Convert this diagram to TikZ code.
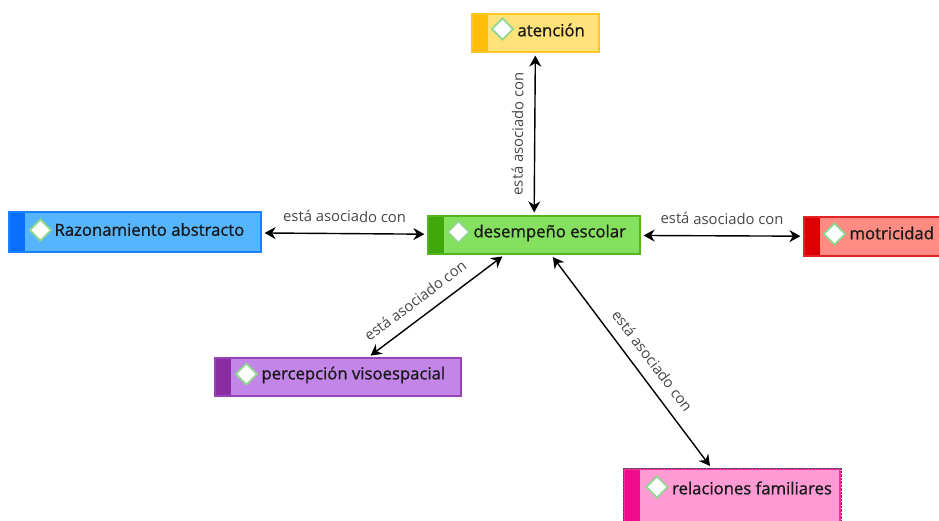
\documentclass[tikz,border=0pt]{standalone}
\usepackage{fontspec}
\setmainfont{Open Sans}
\newfontfamily\conceptfont[FakeBold=1]{Open Sans}
\usepackage{tikz}
\usetikzlibrary{positioning}
\usetikzlibrary{calc}
\usetikzlibrary{arrows.meta}
\usetikzlibrary{shapes.geometric}

\definecolor{yellowfill}{HTML}{FFE27A}
\definecolor{yellowbar}{HTML}{FFBE0A}
\definecolor{greenfill}{HTML}{85E05F}
\definecolor{greenbar}{HTML}{3FA80A}
\definecolor{bluefill}{HTML}{55B5FF}
\definecolor{bluebar}{HTML}{0A6EFF}
\definecolor{redfill}{HTML}{FF8C82}
\definecolor{redbar}{HTML}{DC0005}
\definecolor{purplefill}{HTML}{C385E8}
\definecolor{purplebar}{HTML}{8A2DA5}
\definecolor{pinkfill}{HTML}{FF9AD5}
\definecolor{pinkbar}{HTML}{F00A8C}

\begin{document}
\begin{tikzpicture}[x=1pt,y=-1pt,
      conceptblock/.style 2 args={draw=#2!75!#1,fill=#1,line width=1.2pt,inner sep=0pt,
        path picture={\fill[#2] (path picture bounding box.north west) rectangle
          ($(path picture bounding box.south west)+(16pt,0)$);}},
      iconblock/.style={diamond,draw=green!45!gray!60,fill=white,line width=1.8pt,
        minimum width=22pt,minimum height=22pt,inner sep=0pt},
      conceptlabel/.style={font=\conceptfont\fontsize{16.7}{19}\selectfont,text=black!90,inner sep=0pt,yshift=-1pt},
      assoclink/.style={{Stealth[length=11pt,width=12pt]}-{Stealth[length=11pt,width=12pt]},
        line width=1.4pt,shorten <=3pt,shorten >=3pt},
      linklabel/.style={font=\fontsize{14.8}{17}\selectfont,text=black!72,sloped,above=7.5pt}]
    \clip (0,0) rectangle (939,520);

    % Blocks
    \node[conceptblock={yellowfill}{yellowbar},minimum width=127pt,minimum height=38pt] (attention) at (535.5,33)  {};
    \node[conceptblock={greenfill}{greenbar},minimum width=212pt,minimum height=38pt]   (school)    at (534,235)   {};
    \node[conceptblock={bluefill}{bluebar},minimum width=252pt,minimum height=40pt]     (reasoning) at (135,232)   {};
    \node[conceptblock={redfill}{redbar},minimum width=145pt,minimum height=39pt]       (motor)     at (876.5,236.5) {};
    \node[conceptblock={purplefill}{purplebar},minimum width=246pt,minimum height=38pt] (visual)    at (338,377)   {};
    \node[conceptblock={pinkfill}{pinkbar},minimum width=216pt,minimum height=64pt]     (family)    at (732,501)   {};
    \draw[densely dotted,black!70] (623,468) rectangle (841,530);

    % Icons
    \node[iconblock] (attentionicon) at ($(attention.west)+(31,-4)$) {};
    \node[iconblock] (schoolicon)    at ($(school.west)+(31,-3)$)    {};
    \node[iconblock] (reasoningicon) at ($(reasoning.west)+(32,-2)$) {};
    \node[iconblock] (motoricon)     at ($(motor.west)+(31,-2.5)$)   {};
    \node[iconblock] (visualicon)    at ($(visual.west)+(32,-3)$)    {};
    \node[iconblock] (familyicon)    at (657,487) {};

    % Labels
    \node[conceptlabel,right=3pt of attentionicon]       (attentionlabel) {atención};
    \node[conceptlabel,right=3pt of schoolicon]          (schoollabel)    {desempeño escolar};
    \node[conceptlabel,right=2pt of reasoningicon,yshift=1.5pt] (reasoninglabel) {Razonamiento abstracto};
    \node[conceptlabel,right=3pt of motoricon,yshift=2pt]       (motorlabel)     {motricidad};
    \node[conceptlabel,right=3pt of visualicon]          (visuallabel)    {percepción visoespacial};
    \node[conceptlabel,right=3pt of familyicon]          (familylabel)    {relaciones familiares};

    % Arrows
    \draw[assoclink] (school) -- node[linklabel] {está asociado con} (attention);
    \draw[assoclink] (reasoning) -- node[linklabel] {está asociado con} (school);
    \draw[assoclink] (school) -- node[linklabel] {está asociado con} (motor);
    \draw[assoclink] ($(visual.north west)!0.622!(visual.north east)$) --
      node[linklabel,pos=0.42] {está asociado con} ($(school.south west)!0.363!(school.south east)$);
    \draw[assoclink] ($(school.south west)!0.58!(school.south east)$) --
      node[linklabel,pos=0.545] {está asociado con} ($(family.north west)!0.407!(family.north east)$);

  \end{tikzpicture}
\end{document}
